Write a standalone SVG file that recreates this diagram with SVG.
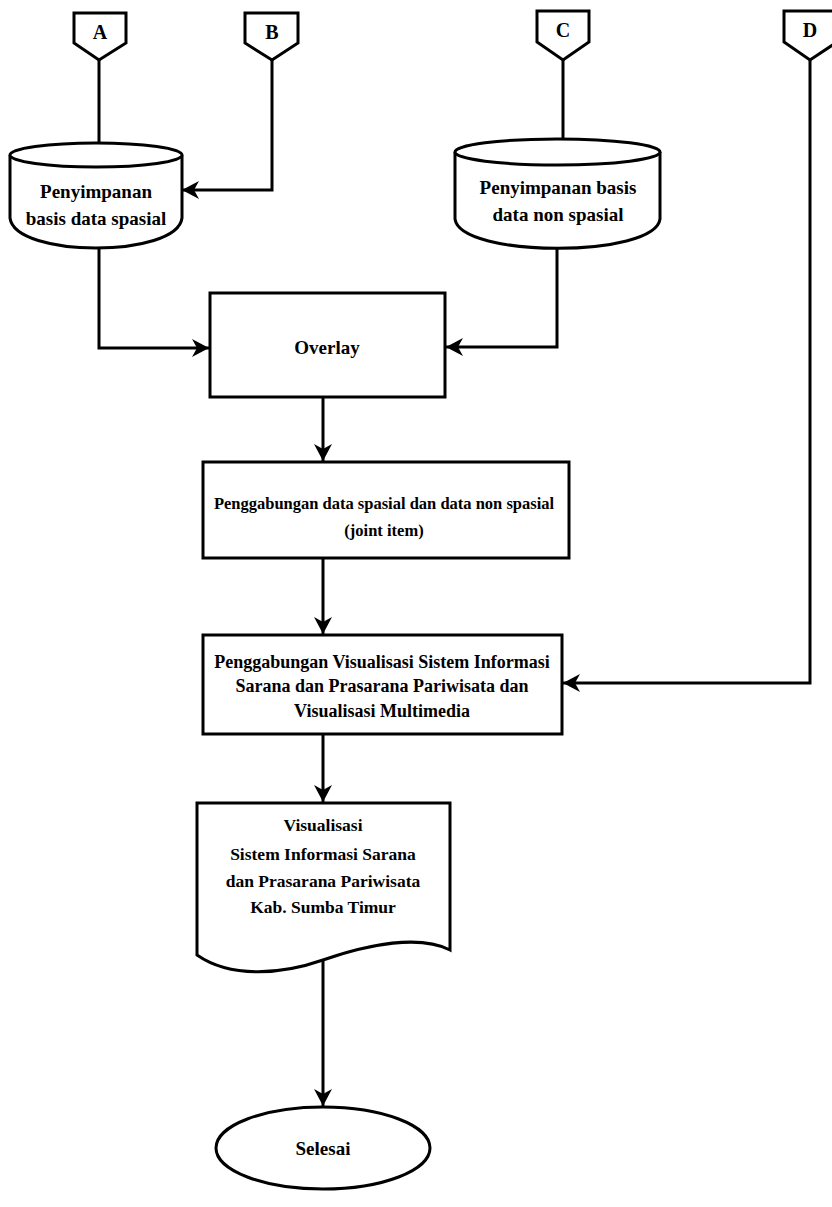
<svg xmlns="http://www.w3.org/2000/svg" width="832" height="1207" viewBox="0 0 832 1207">
<defs>
<style>
.s{fill:#fff;stroke:#000;stroke-width:3;stroke-linejoin:miter}
.c{fill:none;stroke:#000;stroke-width:3}
.t{font-family:"Liberation Serif","Times New Roman",serif;font-weight:bold;fill:#000;text-anchor:middle}
</style>
<marker id="ah" markerUnits="userSpaceOnUse" markerWidth="18" markerHeight="18" refX="17" refY="9" orient="auto" overflow="visible">
<path d="M0,0 L17,9 L0,18 L5,9 Z" fill="#000"/>
</marker>
</defs>
<rect width="832" height="1207" fill="#fff"/>
<g id="connectors">
<path class="c" d="M99,60 V143"/>
<path class="c" d="M272,60 V190 H182" marker-end="url(#ah)"/>
<path class="c" d="M99,246 V348 H209" marker-end="url(#ah)"/>
<path class="c" d="M563,60 V140"/>
<path class="c" d="M557,244 V347 H446" marker-end="url(#ah)"/>
<path class="c" d="M323,397 V461" marker-end="url(#ah)"/>
<path class="c" d="M323,558 V634" marker-end="url(#ah)"/>
<path class="c" d="M810,60 V683 H563" marker-end="url(#ah)"/>
<path class="c" d="M323,734 V802" marker-end="url(#ah)"/>
<path class="c" d="M323,961 V1106" marker-end="url(#ah)"/>
</g>
<g id="conn-A">
<path class="s" d="M74,13 H126 V43 L99,60 L74,43 Z"/>
<text class="t" x="100" y="39" font-size="20">A</text>
</g>
<g id="conn-B">
<path class="s" d="M245,13 H298 V43 L272,60 L245,43 Z"/>
<text class="t" x="272" y="39" font-size="20">B</text>
</g>
<g id="conn-C">
<path class="s" d="M537,11 H589 V42 L563,60 L537,42 Z"/>
<text class="t" x="563" y="37" font-size="20">C</text>
</g>
<g id="conn-D">
<path class="s" d="M784,11 H837 V42 L810,60 L784,42 Z"/>
<text class="t" x="810" y="37" font-size="20">D</text>
</g>
<g id="db-spasial">
<path class="s" d="M10,155 V218 C15,258 177,258 182,218 V155"/>
<ellipse class="s" cx="96" cy="155" rx="86" ry="12"/>
<text class="t" x="96" y="198" font-size="19">Penyimpanan</text>
<text class="t" x="96" y="225" font-size="19">basis data spasial</text>
</g>
<g id="db-nonspasial">
<path class="s" d="M455,152 V219 C460,258 655,258 660,219 V152"/>
<ellipse class="s" cx="557.5" cy="152" rx="102.5" ry="13"/>
<text class="t" x="558" y="194" font-size="19">Penyimpanan basis</text>
<text class="t" x="558" y="221" font-size="19">data non spasial</text>
</g>
<g id="overlay">
<rect class="s" x="210" y="293" width="235" height="104"/>
<text class="t" x="327" y="354" font-size="19">Overlay</text>
</g>
<g id="joint">
<rect class="s" x="203" y="462" width="366" height="96"/>
<text class="t" x="384" y="509" font-size="16.5">Penggabungan data spasial dan data non spasial</text>
<text class="t" x="384" y="536" font-size="16.5">(joint item)</text>
</g>
<g id="gabung-visual">
<rect class="s" x="203" y="635" width="359" height="99"/>
<text class="t" x="382" y="668" font-size="18">Penggabungan Visualisasi Sistem Informasi</text>
<text class="t" x="382" y="692" font-size="18">Sarana dan Prasarana Pariwisata dan</text>
<text class="t" x="382" y="717" font-size="18">Visualisasi Multimedia</text>
</g>
<g id="output-doc">
<path class="s" d="M197,803 H450 V950 C420,935 370,944 323,960 C280,975 230,978 197,955 Z"/>
<text class="t" x="323" y="831" font-size="17.5">Visualisasi</text>
<text class="t" x="323" y="860" font-size="17.5">Sistem Informasi Sarana</text>
<text class="t" x="323" y="887" font-size="17.5">dan Prasarana Pariwisata</text>
<text class="t" x="323" y="913" font-size="17.5">Kab. Sumba Timur</text>
</g>
<g id="selesai">
<ellipse class="s" cx="323" cy="1148" rx="107" ry="41"/>
<text class="t" x="323" y="1155" font-size="19">Selesai</text>
</g>
</svg>
